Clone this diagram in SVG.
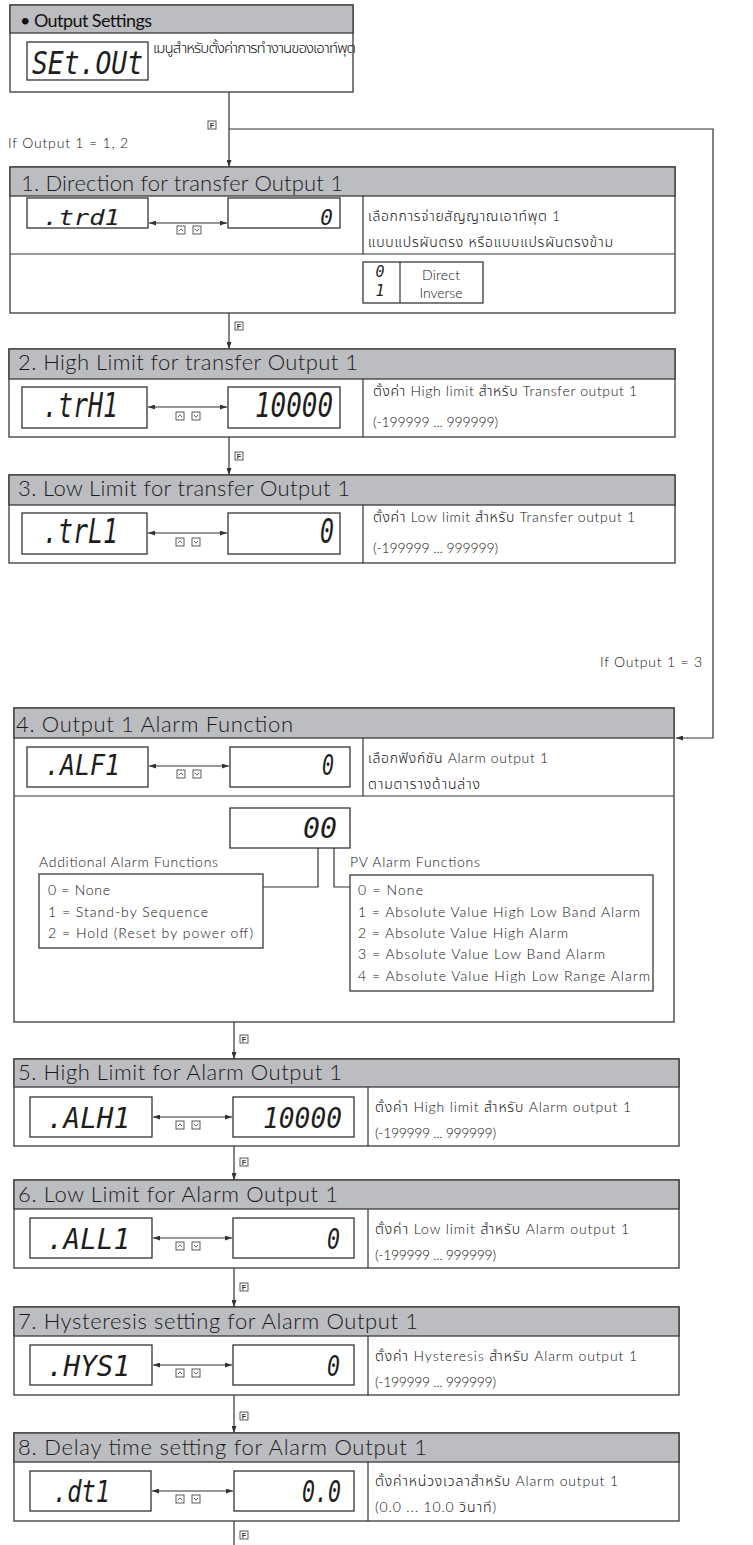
<svg xmlns="http://www.w3.org/2000/svg" xmlns:xlink="http://www.w3.org/1999/xlink" width="753" height="1545" viewBox="0 0 753 1545">
<style>
.box{fill:#fff;stroke:#3a3a3a;stroke-width:1.3}
.hdr{fill:#bcbdc0;stroke:#3a3a3a;stroke-width:1.3}
.disp{fill:#fff;stroke:#333;stroke-width:1.3}
.ln{fill:none;stroke:#333;stroke-width:1.2}
.ht{font-family:Lato,"Noto Sans",sans-serif;font-size:22px;font-weight:300;fill:#1a1a1a}
.dt{font-family:Lato,"Noto Sans","Noto Sans Thai",sans-serif;font-size:14px;font-weight:300;fill:#111}
.seg{font-family:"DejaVu Sans Mono",monospace;font-style:italic;fill:#1e1e1e}
.fk{font-family:"Liberation Sans",sans-serif;font-size:7px;font-weight:bold;fill:#333}
.ic{fill:#fff;stroke:#333;stroke-width:0.8}
</style>
<defs>
<marker id="ah" viewBox="0 0 7 5" refX="7" refY="2.5" markerWidth="7" markerHeight="5" markerUnits="userSpaceOnUse" orient="auto-start-reverse"><path d="M0,0 L7,2.5 L0,5 z" fill="#333"/></marker>
<symbol id="ud" overflow="visible"><rect class="ic" x="0" y="0" width="8" height="8"/><polyline class="ic" points="1.8,5.2 4,2.8 6.2,5.2" style="fill:none"/><rect class="ic" x="16" y="0" width="8" height="8"/><polyline class="ic" points="17.8,2.8 20,5.2 22.2,2.8" style="fill:none"/></symbol>
<symbol id="fk" overflow="visible"><rect class="ic" x="0" y="0" width="8" height="8"/><text class="fk" x="4" y="6.8" text-anchor="middle">F</text></symbol>
</defs>

<g id="connectors">
<line class="ln" x1="229" y1="92" x2="229" y2="167" marker-end="url(#ah)"/>
<path class="ln" d="M229,129 H713 V738 H676" marker-end="url(#ah)"/>
<line class="ln" x1="229" y1="313" x2="229" y2="349" marker-end="url(#ah)"/>
<line class="ln" x1="229" y1="437" x2="229" y2="475" marker-end="url(#ah)"/>
<line class="ln" x1="234" y1="1022" x2="234" y2="1059" marker-end="url(#ah)"/>
<line class="ln" x1="234" y1="1146" x2="234" y2="1180" marker-end="url(#ah)"/>
<line class="ln" x1="234" y1="1268" x2="234" y2="1307" marker-end="url(#ah)"/>
<line class="ln" x1="234" y1="1395" x2="234" y2="1433" marker-end="url(#ah)"/>
<line class="ln" x1="234" y1="1521" x2="234" y2="1545"/>
<use xlink:href="#fk" x="208" y="121"/>
<use xlink:href="#fk" x="235" y="322"/>
<use xlink:href="#fk" x="235" y="452"/>
<use xlink:href="#fk" x="240" y="1035"/>
<use xlink:href="#fk" x="240" y="1158"/>
<use xlink:href="#fk" x="240" y="1283"/>
<use xlink:href="#fk" x="240" y="1412"/>
<use xlink:href="#fk" x="240" y="1531"/>
<text class="dt" x="8" y="148" textLength="120">If Output 1 = 1, 2</text>
<text class="dt" x="600" y="667" textLength="102">If Output 1 = 3</text>
</g>

<g id="s0">
<rect class="box" x="10" y="5" width="343" height="87"/>
<rect class="hdr" x="10" y="5" width="343" height="28"/>
<text class="dt" x="20" y="27" style="font-size:18px;font-weight:400" textLength="132">• Output Settings</text>
<rect class="disp" x="27" y="42" width="121" height="38"/>
<text class="seg" x="32" y="74" font-size="32" textLength="111" lengthAdjust="spacingAndGlyphs">SEt.OUt</text>
<text class="dt" x="153" y="53" style="font-size:15px" textLength="203">เมนูสำหรับตั้งค่าการทำงานของเอาท์พุต</text>
</g>

<g id="s1">
<rect class="box" x="10" y="167" width="665" height="146"/>
<rect class="hdr" x="10" y="167" width="665" height="29"/>
<text class="ht" x="21" y="191" font-size="23" textLength="322">1. Direction for transfer Output 1</text>
<line class="ln" x1="10" y1="254" x2="675" y2="254"/>
<line class="ln" x1="363" y1="196" x2="363" y2="254"/>
<rect class="disp" x="27" y="198" width="121" height="30"/>
<text class="seg" x="43" y="225" font-size="21" textLength="77" lengthAdjust="spacingAndGlyphs">.trd1</text>
<rect class="disp" x="228" y="198" width="112" height="30"/>
<text class="seg" x="333" y="225" font-size="21" text-anchor="end">0</text>
<line class="ln" x1="149" y1="223" x2="227" y2="223" marker-start="url(#ah)" marker-end="url(#ah)"/>
<use xlink:href="#ud" x="177" y="226"/>
<text class="dt" x="368" y="221" textLength="192">เลือกการจ่ายสัญญาณเอาท์พุต 1</text>
<text class="dt" x="368" y="247" textLength="245">แบบแปรผันตรง หรือแบบแปรผันตรงข้าม</text>
<rect class="box" x="363" y="262" width="120" height="41"/>
<line class="ln" x1="400" y1="262" x2="400" y2="303"/>
<text class="seg" x="380" y="277" font-size="15" text-anchor="middle">0</text>
<text class="seg" x="380" y="296" font-size="15" text-anchor="middle">1</text>
<text class="dt" x="441" y="280" text-anchor="middle" textLength="38">Direct</text>
<text class="dt" x="441" y="298" text-anchor="middle" textLength="43">Inverse</text>
</g>

<g id="s2">
<rect class="box" x="9" y="349" width="666" height="88"/>
<rect class="hdr" x="9" y="349" width="666" height="30"/>
<text class="ht" x="18" y="370" textLength="340">2. High Limit for transfer Output 1</text>
<line class="ln" x1="363" y1="379" x2="363" y2="437"/>
<rect class="disp" x="22" y="387" width="125" height="41"/>
<text class="seg" x="43" y="417" font-size="33" textLength="75" lengthAdjust="spacingAndGlyphs">.trH1</text>
<rect class="disp" x="228" y="387" width="112" height="41"/>
<text class="seg" x="255" y="417" font-size="33" textLength="78" lengthAdjust="spacingAndGlyphs">10000</text>
<line class="ln" x1="148" y1="407" x2="227" y2="407" marker-start="url(#ah)" marker-end="url(#ah)"/>
<use xlink:href="#ud" x="176" y="412"/>
<text class="dt" x="373" y="396" textLength="264">ตั้งค่า High limit สำหรับ Transfer output 1</text>
<text class="dt" x="373" y="427" textLength="125">(-199999 ... 999999)</text>
</g>

<g id="s3">
<rect class="box" x="9" y="475" width="666" height="88"/>
<rect class="hdr" x="9" y="475" width="666" height="30"/>
<text class="ht" x="18" y="496" textLength="332">3. Low Limit for transfer Output 1</text>
<line class="ln" x1="363" y1="505" x2="363" y2="563"/>
<rect class="disp" x="22" y="513" width="125" height="41"/>
<text class="seg" x="43" y="543" font-size="33" textLength="75" lengthAdjust="spacingAndGlyphs">.trL1</text>
<rect class="disp" x="228" y="513" width="112" height="41"/>
<text class="seg" x="334" y="543" font-size="33" text-anchor="end" textLength="14" lengthAdjust="spacingAndGlyphs">0</text>
<line class="ln" x1="148" y1="533" x2="227" y2="533" marker-start="url(#ah)" marker-end="url(#ah)"/>
<use xlink:href="#ud" x="176" y="538"/>
<text class="dt" x="373" y="522" textLength="262">ตั้งค่า Low limit สำหรับ Transfer output 1</text>
<text class="dt" x="373" y="553" textLength="125">(-199999 ... 999999)</text>
</g>

<g id="s4">
<rect class="box" x="14" y="708" width="660" height="314"/>
<rect class="hdr" x="14" y="708" width="660" height="30"/>
<text class="ht" x="16" y="732" textLength="277">4. Output 1 Alarm Function</text>
<line class="ln" x1="14" y1="796" x2="674" y2="796"/>
<line class="ln" x1="363" y1="738" x2="363" y2="796"/>
<rect class="disp" x="27" y="747" width="121" height="40"/>
<text class="seg" x="45" y="775" font-size="28" textLength="75" lengthAdjust="spacingAndGlyphs">.ALF1</text>
<rect class="disp" x="230" y="747" width="120" height="40"/>
<text class="seg" x="334" y="775" font-size="28" text-anchor="end" textLength="12" lengthAdjust="spacingAndGlyphs">0</text>
<line class="ln" x1="149" y1="766" x2="229" y2="766" marker-start="url(#ah)" marker-end="url(#ah)"/>
<use xlink:href="#ud" x="177" y="770"/>
<text class="dt" x="368" y="763" textLength="180">เลือกฟังก์ชัน Alarm output 1</text>
<text class="dt" x="368" y="789" textLength="112">ตามตารางด้านล่าง</text>
<rect class="disp" x="230" y="808" width="120" height="40"/>
<text class="seg" x="303" y="838" font-size="28" textLength="34" lengthAdjust="spacingAndGlyphs">00</text>
<polyline class="ln" points="318,848 318,887 263,887"/>
<polyline class="ln" points="334,848 334,887 350,887"/>
<text class="dt" x="39" y="867" textLength="179">Additional Alarm Functions</text>
<rect class="box" x="39" y="874" width="224" height="74"/>
<text class="dt" x="48" y="895" textLength="62">0 = None</text>
<text class="dt" x="48" y="917" textLength="160">1 = Stand-by Sequence</text>
<text class="dt" x="48" y="938" textLength="205">2 = Hold (Reset by power off)</text>
<text class="dt" x="350" y="867" textLength="130">PV Alarm Functions</text>
<rect class="box" x="350" y="875" width="303" height="116"/>
<text class="dt" x="358" y="895" textLength="65">0 = None</text>
<text class="dt" x="358" y="917" textLength="282">1 = Absolute Value High Low Band Alarm</text>
<text class="dt" x="358" y="938" textLength="210">2 = Absolute Value High Alarm</text>
<text class="dt" x="358" y="959" textLength="247">3 = Absolute Value Low Band Alarm</text>
<text class="dt" x="358" y="981" textLength="292">4 = Absolute Value High Low Range Alarm</text>
</g>

<g id="s5">
<rect class="box" x="14" y="1059" width="665" height="87"/>
<rect class="hdr" x="14" y="1059" width="665" height="28"/>
<text class="ht" x="18" y="1080" textLength="324">5. High Limit for Alarm Output 1</text>
<line class="ln" x1="368" y1="1087" x2="368" y2="1146"/>
<rect class="disp" x="30" y="1097" width="122" height="40"/>
<text class="seg" x="47" y="1128" font-size="29" textLength="83" lengthAdjust="spacingAndGlyphs">.ALH1</text>
<rect class="disp" x="233" y="1097" width="121" height="40"/>
<text class="seg" x="263" y="1128" font-size="29" textLength="79" lengthAdjust="spacingAndGlyphs">10000</text>
<line class="ln" x1="153" y1="1117" x2="232" y2="1117" marker-start="url(#ah)" marker-end="url(#ah)"/>
<use xlink:href="#ud" x="176" y="1121"/>
<text class="dt" x="375" y="1112" textLength="256">ตั้งค่า High limit สำหรับ Alarm output 1</text>
<text class="dt" x="375" y="1138" textLength="121">(-199999 ... 999999)</text>
</g>

<g id="s6">
<rect class="box" x="14" y="1180" width="665" height="88"/>
<rect class="hdr" x="14" y="1180" width="665" height="29"/>
<text class="ht" x="18" y="1202" textLength="320">6. Low Limit for Alarm Output 1</text>
<line class="ln" x1="368" y1="1209" x2="368" y2="1268"/>
<rect class="disp" x="30" y="1218" width="122" height="40"/>
<text class="seg" x="47" y="1249" font-size="29" textLength="83" lengthAdjust="spacingAndGlyphs">.ALL1</text>
<rect class="disp" x="233" y="1218" width="121" height="40"/>
<text class="seg" x="340" y="1249" font-size="29" text-anchor="end" textLength="13" lengthAdjust="spacingAndGlyphs">0</text>
<line class="ln" x1="153" y1="1238" x2="232" y2="1238" marker-start="url(#ah)" marker-end="url(#ah)"/>
<use xlink:href="#ud" x="176" y="1242"/>
<text class="dt" x="375" y="1234" textLength="254">ตั้งค่า Low limit สำหรับ Alarm output 1</text>
<text class="dt" x="375" y="1260" textLength="121">(-199999 ... 999999)</text>
</g>

<g id="s7">
<rect class="box" x="14" y="1307" width="665" height="88"/>
<rect class="hdr" x="14" y="1307" width="665" height="29"/>
<text class="ht" x="18" y="1329" textLength="400">7. Hysteresis setting for Alarm Output 1</text>
<line class="ln" x1="368" y1="1336" x2="368" y2="1395"/>
<rect class="disp" x="30" y="1345" width="122" height="40"/>
<text class="seg" x="47" y="1376" font-size="29" textLength="83" lengthAdjust="spacingAndGlyphs">.HYS1</text>
<rect class="disp" x="233" y="1345" width="121" height="40"/>
<text class="seg" x="340" y="1376" font-size="29" text-anchor="end" textLength="13" lengthAdjust="spacingAndGlyphs">0</text>
<line class="ln" x1="153" y1="1365" x2="232" y2="1365" marker-start="url(#ah)" marker-end="url(#ah)"/>
<use xlink:href="#ud" x="176" y="1369"/>
<text class="dt" x="375" y="1361" textLength="262">ตั้งค่า Hysteresis สำหรับ Alarm output 1</text>
<text class="dt" x="375" y="1387" textLength="121">(-199999 ... 999999)</text>
</g>

<g id="s8">
<rect class="box" x="14" y="1433" width="665" height="88"/>
<rect class="hdr" x="14" y="1433" width="665" height="29"/>
<text class="ht" x="18" y="1455" textLength="409">8. Delay time setting for Alarm Output 1</text>
<line class="ln" x1="368" y1="1462" x2="368" y2="1521"/>
<rect class="disp" x="30" y="1471" width="121" height="40"/>
<text class="seg" x="53" y="1502" font-size="31" textLength="57" lengthAdjust="spacingAndGlyphs">.dt1</text>
<rect class="disp" x="234" y="1471" width="120" height="40"/>
<text class="seg" x="302" y="1502" font-size="31" textLength="39" lengthAdjust="spacingAndGlyphs">0.0</text>
<line class="ln" x1="152" y1="1491" x2="233" y2="1491" marker-start="url(#ah)" marker-end="url(#ah)"/>
<use xlink:href="#ud" x="176" y="1495"/>
<text class="dt" x="375" y="1486" textLength="243">ตั้งค่าหน่วงเวลาสำหรับ Alarm output 1</text>
<text class="dt" x="375" y="1512" textLength="121">(0.0 ... 10.0 วินาที)</text>
</g>
</svg>
